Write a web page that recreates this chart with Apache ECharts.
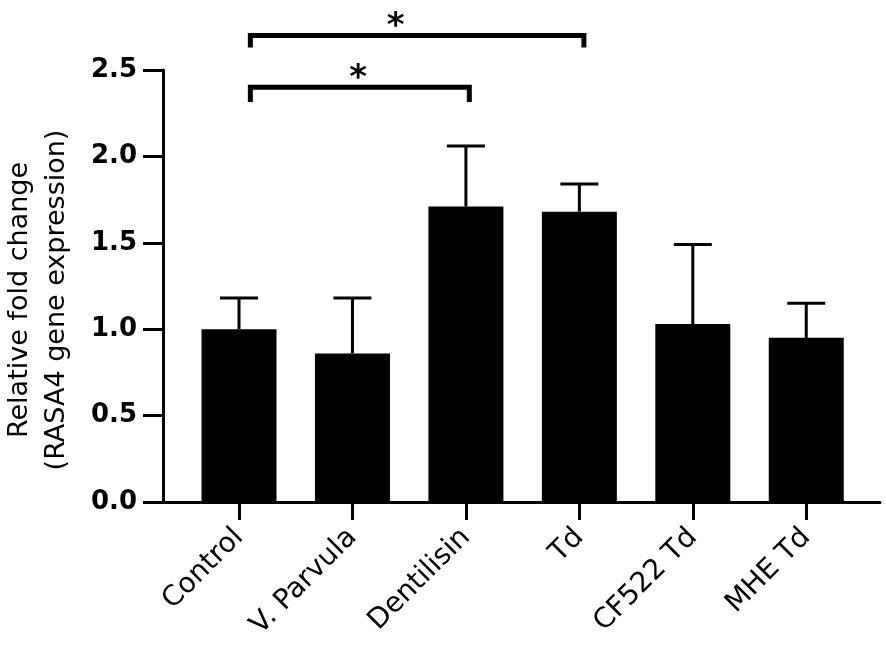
<!DOCTYPE html>
<html>
<head>
<meta charset="utf-8">
<script src="https://cdn.jsdelivr.net/npm/echarts@6.0.0/dist/echarts.min.js"></script>
<style>
    html, body { margin: 0; padding: 0; background: #fff; }
    #main { width: 886px; height: 650px; }
</style>
</head>
<body>
<div id="main"></div>
<script>
var categories = ['Control', 'V. Parvula', 'Dentilisin', 'Td', 'CF522 Td', 'MHE Td'];
var means = [1.00, 0.86, 1.71, 1.68, 1.03, 0.95];
var errTops = [1.18, 1.18, 2.06, 1.84, 1.49, 1.15];
var yTicks = [0, 0.5, 1.0, 1.5, 2.0, 2.5];

// significance brackets: from/to in category index, height of bar and legs
var bracketFrom = [0.1, 0.1];
var bracketTo = [2.03, 3.04];
var bracketY = [2.40, 2.70];
var bracketLegY = [2.315, 2.63];
var starX = [1.05, 1.38];
var starY = [2.445, 2.745];

var font = '"DejaVu Sans", Arial, sans-serif';

function barData() {
    var arr = [];
    for (var i = 0; i < means.length; i++) {
        arr.push([i, means[i]]);
    }
    return arr;
}

function errData() {
    var arr = [];
    for (var i = 0; i < means.length; i++) {
        arr.push([i, means[i], errTops[i]]);
    }
    return arr;
}

function bracketData() {
    var arr = [];
    for (var i = 0; i < bracketFrom.length; i++) {
        arr.push([bracketFrom[i], bracketTo[i], bracketY[i], bracketLegY[i], starX[i], starY[i]]);
    }
    return arr;
}

function render() {
    var myChart = echarts.init(document.getElementById('main'));

    var option = {
        animation: false,
        backgroundColor: '#fff',
        grid: {
            left: 163,
            right: 6,
            top: 70,
            bottom: 148,
            outerBoundsMode: 'none',
            containLabel: false
        },
        xAxis: {
            type: 'value',
            min: -0.67,
            max: 5.65,
            splitLine: { show: false },
            axisLine: {
                show: true,
                onZero: false,
                lineStyle: { color: '#000', width: 3 }
            },
            axisTick: {
                show: true,
                customValues: [0, 1, 2, 3, 4, 5],
                length: 18,
                lineStyle: { color: '#000', width: 3 }
            },
            axisLabel: {
                customValues: [0, 1, 2, 3, 4, 5],
                rotate: 45,
                margin: 31,
                color: '#000',
                fontFamily: font,
                fontSize: 28,
                formatter: function (v) {
                    return categories[Math.round(v)];
                }
            }
        },
        yAxis: {
            type: 'value',
            min: yTicks[0],
            max: yTicks[yTicks.length - 1],
            interval: 0.5,
            name: 'Relative fold change\n(RASA4 gene expression)',
            nameLocation: 'middle',
            nameGap: 88,
            nameTextStyle: {
                color: '#000',
                fontFamily: font,
                fontSize: 27,
                lineHeight: 37,
                padding: [0, 28, 0, 0]
            },
            splitLine: { show: false },
            axisLine: {
                show: true,
                onZero: false,
                lineStyle: { color: '#000', width: 3 }
            },
            axisTick: {
                show: true,
                length: 20,
                lineStyle: { color: '#000', width: 3 }
            },
            axisLabel: {
                color: '#000',
                fontFamily: font,
                fontSize: 26,
                fontWeight: 'bold',
                margin: 26,
                formatter: function (v) {
                    return v.toFixed(1);
                }
            }
        },
        series: [
            {
                type: 'bar',
                data: barData(),
                barWidth: 75,
                itemStyle: { color: '#000' },
                z: 2
            },
            {
                type: 'custom',
                data: errData(),
                z: 1,
                renderItem: function (params, api) {
                    var x = api.value(0);
                    var base = api.coord([x, api.value(1)]);
                    var top = api.coord([x, api.value(2)]);
                    var half = 19;
                    return {
                        type: 'group',
                        children: [
                            {
                                type: 'line',
                                shape: { x1: base[0], y1: base[1], x2: top[0], y2: top[1] },
                                style: { stroke: '#000', lineWidth: 3 }
                            },
                            {
                                type: 'line',
                                shape: { x1: top[0] - half, y1: top[1], x2: top[0] + half, y2: top[1] },
                                style: { stroke: '#000', lineWidth: 3 }
                            }
                        ]
                    };
                }
            },
            {
                type: 'custom',
                data: bracketData(),
                clip: false,
                renderItem: function (params, api) {
                    var a = api.coord([api.value(0), api.value(2)]);
                    var b = api.coord([api.value(1), api.value(2)]);
                    var legA = api.coord([api.value(0), api.value(3)]);
                    var legB = api.coord([api.value(1), api.value(3)]);
                    var s = api.coord([api.value(4), api.value(5)]);
                    return {
                        type: 'group',
                        children: [
                            {
                                type: 'polyline',
                                shape: { points: [legA, a, b, legB] },
                                style: { stroke: '#000', lineWidth: 5, fill: null, lineJoin: 'miter' }
                            },
                            {
                                type: 'text',
                                x: s[0],
                                y: s[1],
                                style: {
                                    text: '*',
                                    fill: '#000',
                                    font: 'bold 34px ' + font,
                                    align: 'center',
                                    verticalAlign: 'middle'
                                }
                            }
                        ]
                    };
                }
            }
        ]
    };

    myChart.setOption(option);
}

render();
</script>
</body>
</html>
